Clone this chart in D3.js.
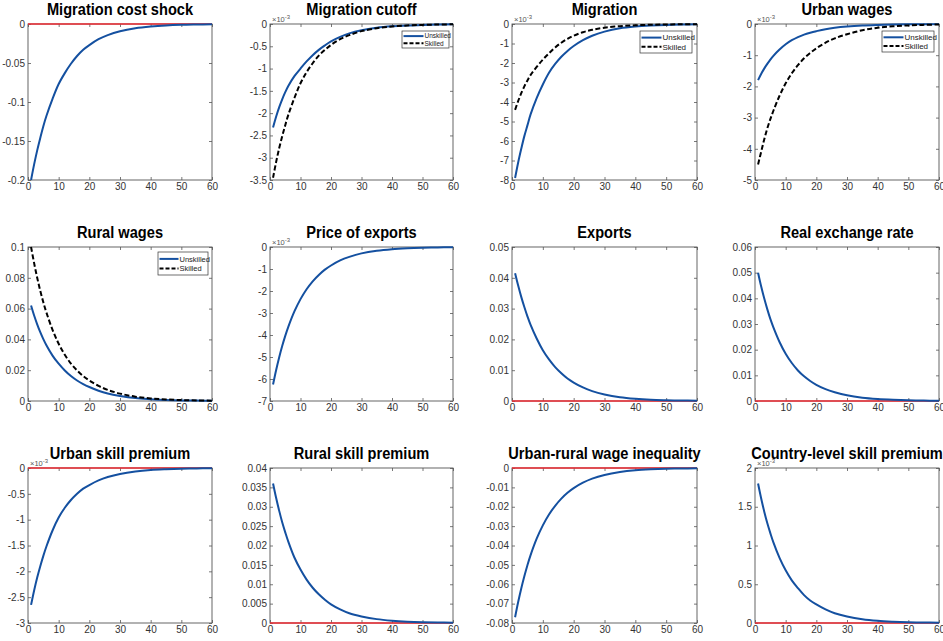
<!DOCTYPE html>
<html>
<head>
    <meta charset="utf-8">
    <title>Impulse responses</title>
    <script src="https://d3js.org/d3.v7.min.js"></script>
    <style>
        body { margin: 0; background: #fff; }
        svg text { font-family: "Liberation Sans Narrow", "Liberation Sans", Arial, sans-serif; }
        .tick text { fill: #333; font-size: 10px; }
        .title { font-family: "Liberation Sans", Arial, sans-serif; font-weight: bold; font-size: 17px; fill: #000; }
    </style>
</head>
<body>
    <svg id="chart"></svg>

    <script>
    const periods = [1,2,3,4,5,6,8,10,12,14,16,18,20,23,26,30,35,40,45,50,55,60];

    // responses
    const migCostShock = [-0.200,-0.180,-0.162,-0.146,-0.131,-0.118,-0.096,-0.077,-0.063,-0.051,-0.041,-0.033,-0.027,-0.0195,-0.0142,-0.0093,-0.0055,-0.0033,-0.0019,-0.0011,-0.0007,-0.0004];
    const cutoffUnskilled = [-2.32,-2.08,-1.87,-1.69,-1.53,-1.39,-1.17,-1.00,-0.84,-0.70,-0.58,-0.48,-0.39,-0.29,-0.21,-0.14,-0.085,-0.052,-0.032,-0.02,-0.012,-0.007];
    const cutoffSkilled = [-3.45,-3.10,-2.79,-2.52,-2.27,-2.04,-1.66,-1.33,-1.08,-0.88,-0.71,-0.58,-0.47,-0.34,-0.25,-0.16,-0.095,-0.056,-0.033,-0.02,-0.012,-0.007];
    const migUnskilled = [-7.9,-7.1,-6.4,-5.75,-5.2,-4.65,-3.8,-3.1,-2.5,-2.05,-1.68,-1.38,-1.13,-0.83,-0.6,-0.39,-0.22,-0.13,-0.078,-0.045,-0.027,-0.016];
    const migSkilled = [-4.4,-3.95,-3.55,-3.2,-2.9,-2.62,-2.2,-1.83,-1.5,-1.2,-0.96,-0.76,-0.6,-0.42,-0.3,-0.19,-0.11,-0.065,-0.04,-0.024,-0.014,-0.008];
    const urbanUnskilled = [-1.8,-1.6,-1.43,-1.28,-1.14,-1.02,-0.82,-0.65,-0.52,-0.42,-0.34,-0.28,-0.23,-0.165,-0.12,-0.08,-0.048,-0.03,-0.018,-0.011,-0.007,-0.004];
    const urbanSkilled = [-4.5,-4.1,-3.7,-3.35,-3.05,-2.78,-2.3,-1.9,-1.58,-1.32,-1.1,-0.93,-0.78,-0.6,-0.46,-0.33,-0.2,-0.12,-0.075,-0.045,-0.028,-0.017];
    const ruralUnskilled = [0.062,0.0555,0.0498,0.0447,0.0402,0.0362,0.0295,0.0242,0.0198,0.0162,0.0133,0.0110,0.0091,0.0067,0.0049,0.0033,0.0019,0.0012,0.0007,0.0004,0.00025,0.00015];
    const ruralSkilled = [0.1,0.0895,0.080,0.0716,0.0641,0.0575,0.0462,0.0372,0.030,0.0243,0.0198,0.0162,0.0133,0.0098,0.0072,0.0048,0.0028,0.0017,0.001,0.0006,0.00035,0.0002];
    const priceExports = [-6.25,-5.6,-5.02,-4.5,-4.04,-3.63,-2.93,-2.37,-1.92,-1.56,-1.27,-1.03,-0.84,-0.61,-0.45,-0.29,-0.17,-0.1,-0.06,-0.035,-0.02,-0.012];
    const exportsResp = [0.0415,0.0375,0.0338,0.0305,0.0275,0.0248,0.0203,0.0165,0.0135,0.011,0.009,0.0073,0.006,0.0044,0.0032,0.0021,0.0012,0.0007,0.0004,0.00025,0.00015,0.0001];
    const realExRate = [0.05,0.0447,0.04,0.0358,0.032,0.0287,0.023,0.0184,0.0148,0.0119,0.0096,0.0078,0.0063,0.0046,0.0034,0.0022,0.0013,0.0008,0.0005,0.0003,0.00018,0.0001];
    const urbanPremium = [-2.65,-2.37,-2.12,-1.9,-1.7,-1.52,-1.21,-0.96,-0.77,-0.62,-0.5,-0.4,-0.33,-0.24,-0.175,-0.115,-0.068,-0.04,-0.025,-0.015,-0.009,-0.005];
    const ruralPremium = [0.036,0.0323,0.029,0.026,0.0234,0.021,0.0169,0.0138,0.0112,0.0091,0.0074,0.006,0.0048,0.0035,0.0025,0.0017,0.001,0.0006,0.00035,0.0002,0.00012,0.00007];
    const urbanRural = [-0.077,-0.0692,-0.0622,-0.0559,-0.0502,-0.0451,-0.0365,-0.0296,-0.024,-0.0195,-0.0158,-0.0128,-0.0104,-0.0076,-0.0055,-0.0036,-0.0021,-0.0012,-0.0007,-0.0004,-0.00025,-0.00015];
    const countryPremium = [1.8,1.61,1.44,1.29,1.16,1.04,0.84,0.68,0.55,0.45,0.36,0.29,0.24,0.175,0.125,0.083,0.048,0.028,0.017,0.01,0.006,0.0035];

    // tick values
    const xTicks = [0,10,20,30,40,50,60];
    const yTicksShock = [-0.2,-0.15,-0.1,-0.05,0];
    const yTicksCutoff = [-3.5,-3,-2.5,-2,-1.5,-1,-0.5,0];
    const yTicksMig = [-8,-7,-6,-5,-4,-3,-2,-1,0];
    const yTicksUrban = [-5,-4,-3,-2,-1,0];
    const yTicksRural = [0,0.02,0.04,0.06,0.08,0.1];
    const yTicksPrice = [-7,-6,-5,-4,-3,-2,-1,0];
    const yTicksExports = [0,0.01,0.02,0.03,0.04,0.05];
    const yTicksRer = [0,0.01,0.02,0.03,0.04,0.05,0.06];
    const yTicksUrbanPrem = [-3,-2.5,-2,-1.5,-1,-0.5,0];
    const yTicksRuralPrem = [0,0.005,0.01,0.015,0.02,0.025,0.03,0.035,0.04];
    const yTicksUrbanRural = [-0.08,-0.07,-0.06,-0.05,-0.04,-0.03,-0.02,-0.01,0];
    const yTicksCountry = [0,0.5,1,1.5,2];

    const seriesNames = ["Unskilled", "Skilled"];

    const blue = "#1450a0", red = "#ee2d35";

    // layout of the 4x3 grid
    const colL = [28, 270, 512, 755], colR = [212, 453, 697, 939];
    const rowT = [24, 247, 468], rowB = [180, 401, 623];

    const panels = [
        {title: "Migration cost shock", lines: [migCostShock], ticks: yTicksShock, zero: true},
        {title: "Migration cutoff", lines: [cutoffUnskilled, cutoffSkilled], ticks: yTicksCutoff, exp: true,
            legend: {x: 402, y: 31, w: 47, h: 17, fs: 6.5, len: 20}},
        {title: "Migration", lines: [migUnskilled, migSkilled], ticks: yTicksMig, exp: true,
            legend: {x: 640, y: 31, w: 52, h: 22, fs: 8, len: 20}},
        {title: "Urban wages", lines: [urbanUnskilled, urbanSkilled], ticks: yTicksUrban, exp: true,
            legend: {x: 882, y: 31, w: 52, h: 21, fs: 8, len: 20}},
        {title: "Rural wages", lines: [ruralUnskilled, ruralSkilled], ticks: yTicksRural,
            legend: {x: 158, y: 252, w: 50, h: 23, fs: 7.5, len: 19}},
        {title: "Price of exports", lines: [priceExports], ticks: yTicksPrice, exp: true},
        {title: "Exports", lines: [exportsResp], ticks: yTicksExports, zero: true},
        {title: "Real exchange rate", lines: [realExRate], ticks: yTicksRer, zero: true},
        {title: "Urban skill premium", lines: [urbanPremium], ticks: yTicksUrbanPrem, exp: true, zero: true},
        {title: "Rural skill premium", lines: [ruralPremium], ticks: yTicksRuralPrem, zero: true},
        {title: "Urban-rural wage inequality", lines: [urbanRural], ticks: yTicksUrbanRural, zero: true},
        {title: "Country-level skill premium", lines: [countryPremium], ticks: yTicksCountry, exp: true, zero: true}
    ];

    let svg = d3.select("#chart").attr("width", 943).attr("height", 641);

    panels.forEach(function(p, i) {
        let c = i % 4, r = Math.floor(i / 4);
        let x0 = colL[c], x1 = colR[c], y0 = rowT[r], y1 = rowB[r];
        let g = svg.append("g");

        let x = d3.scaleLinear().domain([0, 60]).range([x0, x1]);
        let y = d3.scaleLinear().domain(d3.extent(p.ticks)).range([y1, y0]);

        // exponent label sits under the title, as in the original
        if (p.exp) {
            let t = g.append("text").attr("x", x0 + 2).attr("y", y0 - 2)
                .attr("font-size", 7.5).attr("fill", "#555");
            t.append("tspan").text("×10");
            t.append("tspan").attr("dy", -3.5).attr("font-size", 6).text("-3");
        }

        // axes: ticks inward on all four sides, labels left and bottom
        let fmt = d => String(d);
        let axes = [
            [d3.axisBottom(x).tickValues(xTicks).tickFormat(fmt), 0, y1],
            [d3.axisTop(x).tickValues(xTicks).tickFormat(""), 0, y0],
            [d3.axisLeft(y).tickValues(p.ticks).tickFormat(fmt), x0, 0],
            [d3.axisRight(y).tickValues(p.ticks).tickFormat(""), x1, 0]
        ];
        axes.forEach(function(a) {
            let ag = g.append("g").attr("transform", "translate(" + a[1] + "," + a[2] + ")")
                .call(a[0].tickSizeInner(-3).tickSizeOuter(0).tickPadding(3));
            ag.select(".domain").remove();
            ag.selectAll("line").attr("stroke", "#555").attr("stroke-width", 0.8);
        });
        g.selectAll(".tick text").attr("font-family", null).attr("font-size", null);

        g.append("rect").attr("x", x0).attr("y", y0).attr("width", x1 - x0).attr("height", y1 - y0)
            .attr("fill", "none").attr("stroke", "#555").attr("stroke-width", 0.9);

        // zero line
        if (p.zero) {
            g.append("line").attr("x1", x(0)).attr("x2", x(60)).attr("y1", y(0)).attr("y2", y(0))
                .attr("stroke", red).attr("stroke-width", 1.6);
        }

        let line = d3.line().x((d, k) => x(periods[k])).y(d => y(d)).curve(d3.curveCatmullRom.alpha(0.5));
        p.lines.forEach(function(vals, k) {
            g.append("path").datum(vals).attr("d", line)
                .attr("fill", "none")
                .attr("stroke", k === 0 ? blue : "#000")
                .attr("stroke-width", 2)
                .attr("stroke-dasharray", k === 0 ? null : "5,2.5");
        });

        // titles are squeezed horizontally like the original figure
        g.append("text").attr("class", "title")
            .attr("transform", "translate(" + (x0 + x1) / 2 + "," + (y0 - 9) + ") scale(0.86,1)")
            .attr("text-anchor", "middle").text(p.title);

        if (p.legend) {
            let L = p.legend;
            let lg = g.append("g");
            lg.append("rect").attr("x", L.x).attr("y", L.y).attr("width", L.w).attr("height", L.h)
                .attr("fill", "#fff").attr("stroke", "#333").attr("stroke-width", 0.7);
            seriesNames.forEach(function(name, k) {
                let ly = L.y + L.h * (k === 0 ? 0.3 : 0.72);
                lg.append("line").attr("x1", L.x + 1.5).attr("x2", L.x + 1.5 + L.len)
                    .attr("y1", ly).attr("y2", ly)
                    .attr("stroke", k === 0 ? blue : "#000").attr("stroke-width", 2)
                    .attr("stroke-dasharray", k === 0 ? null : "4,2");
                lg.append("text").attr("x", L.x + 2.5 + L.len).attr("y", ly)
                    .attr("dy", "0.35em").attr("font-size", L.fs).attr("fill", "#222").text(name);
            });
        }
    });
    </script>
</body>
</html>
